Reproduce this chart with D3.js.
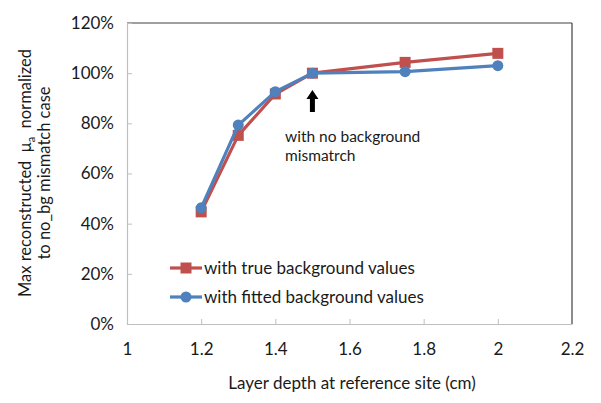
<!DOCTYPE html>
<html><head><meta charset="utf-8">
<script src="https://cdn.jsdelivr.net/npm/d3@7"></script>
<style>
html,body{margin:0;padding:0;background:#fff;}
text{font-family:Lato,"Open Sans",sans-serif;fill:#1a1a1a;}
</style></head>
<body><svg id="c" width="601" height="403"></svg>
<script>
const depths = [1.2, 1.3, 1.4, 1.5, 1.75, 2];
const trueBg = [0.447, 0.752, 0.917, 1.0, 1.043, 1.079];
const fittedBg = [0.463, 0.793, 0.926, 1.0, 1.006, 1.030];
const seriesNames = ["with true background values", "with fitted background values"];
const xTicks = [1, 1.2, 1.4, 1.6, 1.8, 2, 2.2];
const yTicks = [0, 0.2, 0.4, 0.6, 0.8, 1.0, 1.2];

const svg = d3.select("#c");
const L = 127, R = 572, T = 23, B = 324;
const x = d3.scaleLinear().domain([1, 2.2]).range([L, R]);
const y = d3.scaleLinear().domain([0, 1.2]).range([B, T]);

svg.append("line").attr("x1", L).attr("x2", R).attr("y1", T).attr("y2", T).attr("stroke", "#404040").attr("stroke-width", 1.2);
svg.append("line").attr("x1", R).attr("x2", R).attr("y1", T).attr("y2", B).attr("stroke", "#404040").attr("stroke-width", 1.2);

const yAxis = svg.append("g").attr("transform", `translate(${L},0)`)
  .call(d3.axisLeft(y).tickValues(yTicks).tickFormat(d => Math.round(d * 100) + "%").tickSizeInner(-5).tickSizeOuter(0).tickPadding(13));
const xAxis = svg.append("g").attr("transform", `translate(0,${B})`)
  .call(d3.axisBottom(x).tickValues(xTicks).tickFormat(d => d3.format("")(d)).tickSizeInner(-5).tickSizeOuter(0).tickPadding(19));
[yAxis, xAxis].forEach(g => {
  g.select(".domain").attr("stroke", "#bfbfbf").attr("stroke-width", 1.2);
  g.selectAll(".tick line").attr("stroke", "#bfbfbf");
  g.selectAll(".tick text").style("font-family", "Lato,'Open Sans',sans-serif").style("font-size", "17px").attr("fill", "#1a1a1a");
});
xAxis.selectAll(".tick").filter(d => d === 2.2).select("line").remove();

svg.append("text").attr("x", 352).attr("y", 389).attr("text-anchor", "middle").style("font-size", "17px")
  .text("Layer depth at reference site (cm)");
const yt = svg.append("g").attr("transform", "translate(0,173) rotate(-90)");
const t1 = yt.append("text").attr("x", 0).attr("y", 31).attr("text-anchor", "middle").style("font-size", "16.5px").style("white-space", "pre");
t1.append("tspan").text("Max reconstructed  \u03bc");
t1.append("tspan").attr("dy", 4).style("font-size", "11px").text("a");
t1.append("tspan").attr("dy", -4).text("  normalized");
yt.append("text").attr("x", 0).attr("y", 50).attr("text-anchor", "middle").style("font-size", "16.5px")
  .text("to no_bg mismatch case");

const colors = ["#C0504D", "#4F81BD"];
const data = [trueBg, fittedBg];
const line = d3.line().x((d, i) => x(depths[i])).y(d => y(d));

data.forEach((vals, k) => {
  svg.append("path").datum(vals).attr("d", line).attr("fill", "none")
    .attr("stroke", colors[k]).attr("stroke-width", 3.2).attr("stroke-linejoin", "round");
  if (k === 0) {
    svg.selectAll(null).data(vals).enter().append("rect")
      .attr("x", (d, i) => x(depths[i]) - 5.5).attr("y", d => y(d) - 5.5)
      .attr("width", 11).attr("height", 11).attr("fill", colors[k]);
  } else {
    svg.selectAll(null).data(vals).enter().append("circle")
      .attr("cx", (d, i) => x(depths[i])).attr("cy", d => y(d)).attr("r", 5.5).attr("fill", colors[k]);
  }
});

const ax = x(1.5);
svg.append("path")
  .attr("d", `M${ax},${90} L${ax + 6},${99} L${ax + 2.5},${99} L${ax + 2.5},${112} L${ax - 2.5},${112} L${ax - 2.5},${99} L${ax - 6},${99} Z`)
  .attr("fill", "#000");
svg.append("text").attr("x", 285).attr("y", 142).style("font-size", "15.5px").text("with no background");
svg.append("text").attr("x", 285).attr("y", 161).style("font-size", "15.5px").text("mismatrch");

const lg = [268, 297];
seriesNames.forEach((n, k) => {
  const ly = lg[k];
  svg.append("line").attr("x1", 170).attr("x2", 202).attr("y1", ly).attr("y2", ly).attr("stroke", colors[k]).attr("stroke-width", 3.2);
  if (k === 0) svg.append("rect").attr("x", 180.5).attr("y", ly - 5.5).attr("width", 11).attr("height", 11).attr("fill", colors[k]);
  else svg.append("circle").attr("cx", 186).attr("cy", ly).attr("r", 5.5).attr("fill", colors[k]);
  svg.append("text").attr("x", 204).attr("y", ly + 6).style("font-size", "17px").text(n);
});
</script></body></html>
